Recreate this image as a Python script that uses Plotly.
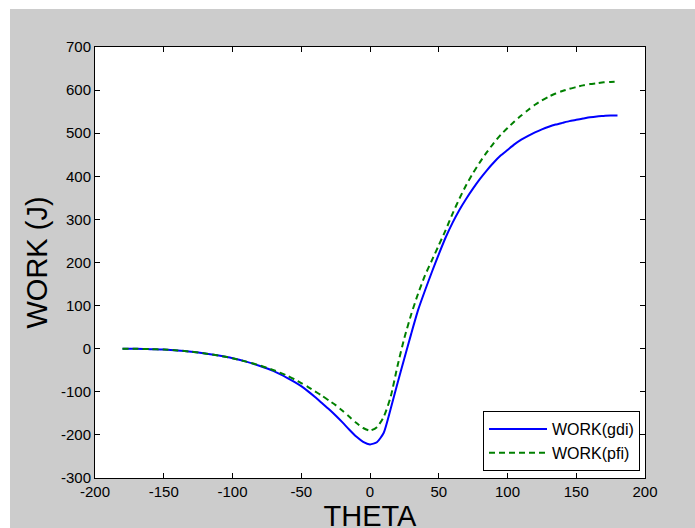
import plotly.graph_objects as go

# Data
theta = [-180, -170, -160, -150, -140, -130, -120, -110, -100, -90, -80, -70, -60,
         -55, -50, -45, -40, -35, -30, -25, -20, -15, -10, -5, 0, 5, 10, 15, 20,
         25, 30, 35, 40, 45, 50, 55, 60, 65, 70, 75, 80, 85, 90, 95, 100, 105, 110,
         115, 120, 125, 130, 135, 140, 145, 150, 155, 160, 165, 170, 175, 180]

work_gdi = [0, 0, -1, -2, -4, -7, -11, -16, -22, -30, -40, -52, -68,
            -77, -87, -99, -112, -126, -140, -155, -171, -188, -204, -216, -222, -217, -195, -140, -80,
            -22, 35, 90, 135, 178, 219, 258, 292, 322, 348, 372, 394, 414, 432, 448, 461, 474, 485,
            494, 502, 509, 515, 520, 524, 528, 531, 534, 537, 539, 540, 541, 541]

work_pfi = [0, 0, -1, -2, -4, -7, -11, -16, -22, -30, -39, -50, -63,
            -71, -80, -89, -99, -109, -120, -131, -144, -158, -172, -184, -190, -182, -158, -112, -40,
            25, 80, 128, 170, 205, 240, 275, 313, 348, 380, 408, 433, 456, 477, 496, 512, 527, 541,
            554, 566, 576, 585, 592, 598, 603, 607, 611, 614, 616, 618, 619, 620]

x_ticks = [-200, -150, -100, -50, 0, 50, 100, 150, 200]
x_labels = ["-200", "-150", "-100", "-50", "0", "50", "100", "150", "200"]
y_ticks = [-300, -200, -100, 0, 100, 200, 300, 400, 500, 600, 700]
y_labels = ["-300", "-200", "-100", "0", "100", "200", "300", "400", "500", "600", "700"]

W, H = 695, 538
L, R, T, B = 95, 645, 47, 477
MB = 51

fig = go.Figure()
fig.add_trace(go.Scatter(x=theta, y=work_gdi, mode="lines", name="WORK(gdi)",
                         line=dict(color="#0000ff", width=2, shape="spline", smoothing=0.6)))
fig.add_trace(go.Scatter(x=theta, y=work_pfi, mode="lines", name="WORK(pfi)",
                         line=dict(color="#008000", width=2, dash="6px,4px", shape="spline", smoothing=0.6)))

font = "Liberation Sans, Arial, sans-serif"
axis_common = dict(showline=True, linecolor="black", linewidth=1, mirror="ticks",
                   ticks="inside", ticklen=5, tickcolor="black", showgrid=False,
                   zeroline=False, tickfont=dict(family=font, size=15, color="black"))

def px_x(px):
    return (px - L) / (R - L)

def px_y(py):
    return (B - py) / (B - T)

fig.update_layout(
    width=W, height=H,
    margin=dict(l=L, r=W - R, t=T, b=MB),
    paper_bgcolor="#cccccc",
    plot_bgcolor="white",
    showlegend=True,
    legend=dict(x=px_x(640), y=px_y(470), xanchor="right", yanchor="bottom",
                bgcolor="white", bordercolor="black", borderwidth=1, itemwidth=58,
                font=dict(family=font, size=16, color="black")),
    xaxis=dict(range=[-200, 200], tickmode="array", tickvals=x_ticks, ticktext=x_labels,
               title=dict(text="THETA", font=dict(family=font, size=29, color="black"), standoff=6),
               **axis_common),
    yaxis=dict(range=[-300, 700], tickmode="array", tickvals=y_ticks, ticktext=y_labels,
               title=dict(text="WORK (J)", font=dict(family=font, size=29, color="black"), standoff=4),
               **axis_common),
    shapes=[
        dict(type="rect", xref="paper", yref="paper", x0=px_x(0), x1=px_x(W), y0=px_y(9), y1=px_y(0),
             fillcolor="white", line=dict(width=0), layer="below"),
        dict(type="rect", xref="paper", yref="paper", x0=px_x(0), x1=px_x(10), y0=px_y(600), y1=px_y(0),
             fillcolor="white", line=dict(width=0), layer="below"),
    ],
)

fig.write_html("out.html", config={"displayModeBar": False},
               post_script="document.body.style.margin='0';document.body.style.overflow='hidden';")
